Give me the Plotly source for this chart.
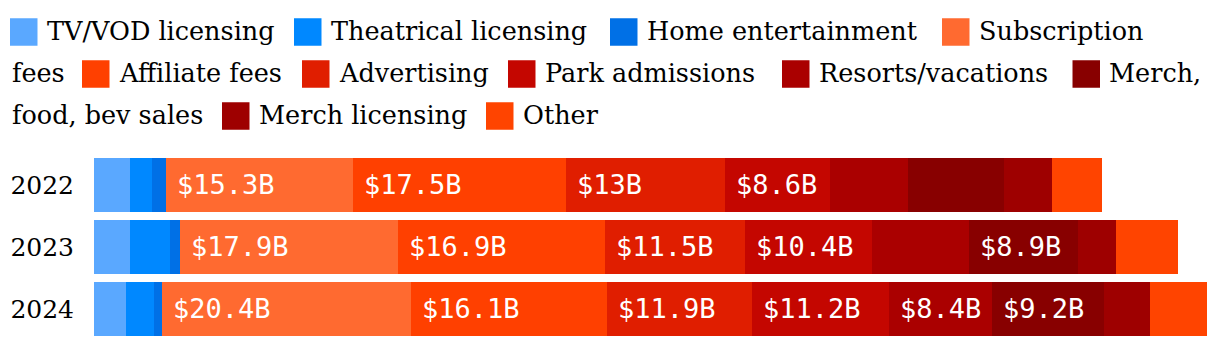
import plotly.graph_objects as go

# ---------------- data ----------------
years = ["2022", "2023", "2024"]
categories = [
    "TV/VOD licensing", "Theatrical licensing", "Home entertainment",
    "Subscription fees", "Affiliate fees", "Advertising", "Park admissions",
    "Resorts/vacations", "Merch, food, bev sales", "Merch licensing", "Other",
]
tv_vod = [2.95, 2.96, 2.62]
theatrical = [1.78, 3.28, 2.27]
home_ent = [1.17, 0.81, 0.68]
subscription = [15.3, 17.9, 20.4]
affiliate = [17.5, 16.9, 16.1]
advertising = [13.0, 11.5, 11.9]
park_admissions = [8.6, 10.4, 11.2]
resorts = [6.4, 8.0, 8.4]
merch_food = [7.9, 8.9, 9.2]
merch_licensing = [3.9, 3.1, 3.75]
other = [4.1, 5.1, 4.7]

series = [tv_vod, theatrical, home_ent, subscription, affiliate, advertising,
          park_admissions, resorts, merch_food, merch_licensing, other]
colors = ["#5AA8FF", "#0088FF", "#0070E6", "#FF6A30", "#FF4000", "#E01E00",
          "#C40600", "#AA0000", "#880000", "#9E0000", "#FF4400"]

LABEL_MIN = 8.4

# ---------------- figure ----------------
W, H = 1220, 348
fig = go.Figure()
for name, vals, col in zip(categories, series, colors):
    fig.add_trace(go.Bar(
        y=years, x=vals, name=name, orientation="h",
        marker=dict(color=col, line=dict(width=0)),
        showlegend=False, hoverinfo="x+name",
    ))

# value labels
annotations = []
for yi, yr in enumerate(years):
    base = 0.0
    for vals in series:
        v = vals[yi]
        if v >= LABEL_MIN:
            annotations.append(dict(
                x=base, y=yi, xref="x", yref="y", text=f"${v:g}B",
                showarrow=False, xanchor="left", yanchor="middle", xshift=9,
                font=dict(family="DejaVu Sans Mono", size=27, color="white"),
            ))
        base += v

# custom flowing legend (text wraps like the original)
SQ = 27.5
row_cy = [32, 74, 116]
legend_pieces = [
    # (category index or None, row, square x px, text)
    (0, 0, 10, "TV/VOD licensing"),
    (1, 0, 294, "Theatrical licensing"),
    (2, 0, 610, "Home entertainment"),
    (3, 0, 942, "Subscription"),
    (None, 1, 10, "fees"),
    (4, 1, 82, "Affiliate fees"),
    (5, 1, 302, "Advertising"),
    (6, 1, 508, "Park admissions"),
    (7, 1, 782, "Resorts/vacations"),
    (8, 1, 1072.5, "Merch,"),
    (None, 2, 10, "food, bev sales"),
    (9, 2, 222, "Merch licensing"),
    (10, 2, 486, "Other"),
]
shapes = []
for ci, row, sx, txt in legend_pieces:
    cy = row_cy[row]
    if ci is not None:
        shapes.append(dict(
            type="rect", xref="paper", yref="paper",
            x0=sx / W, x1=(sx + SQ) / W,
            y0=1 - (cy + SQ / 2) / H, y1=1 - (cy - SQ / 2) / H,
            fillcolor=colors[ci], line=dict(width=0),
        ))
        tx = sx + SQ + 7
    else:
        tx = sx
    annotations.append(dict(
        x=tx / W, y=1 - (cy - 1) / H, xref="paper", yref="paper", text=txt,
        showarrow=False, xanchor="left", yanchor="middle",
        font=dict(family="DejaVu Serif", size=25.5, color="black"),
    ))

PX_PER_B = 12.2
x_start = 94
fig.update_layout(
    width=W, height=H, barmode="stack", bargap=0.134,
    margin=dict(l=0, r=0, t=0, b=0),
    paper_bgcolor="white", plot_bgcolor="white",
    xaxis=dict(domain=[x_start / W, 1], range=[0, (W - x_start) / PX_PER_B],
               visible=False, fixedrange=True),
    yaxis=dict(domain=[(H - 339.9) / H, (H - 153.9) / H], type="category",
               categoryorder="array", categoryarray=years,
               range=[len(years) - 0.5, -0.5], autorange=False,
               showgrid=False, zeroline=False, showline=False, ticks="",
               ticklabelstandoff=19,
               tickfont=dict(family="DejaVu Serif", size=25, color="black")),
    annotations=annotations, shapes=shapes,
)

fig.write_html("out.html")
